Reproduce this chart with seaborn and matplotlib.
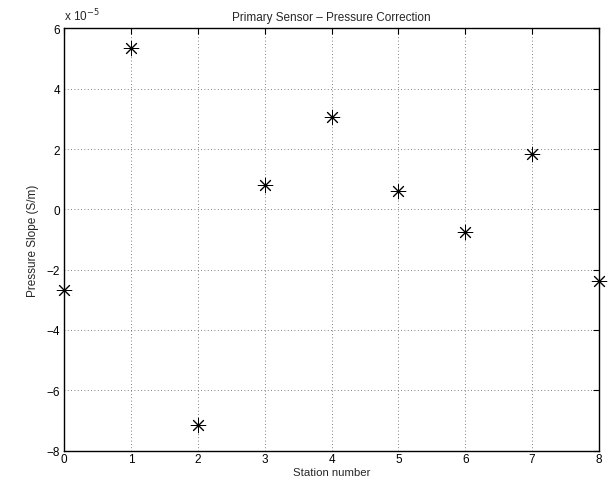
import numpy as np
import pandas as pd
import matplotlib
matplotlib.use('Agg')
import matplotlib.pyplot as plt
import seaborn as sns

# data (pressure slope in units of 1e-5 S/m)
stations = [0, 1, 2, 3, 4, 5, 6, 7, 8]
slope_e5 = [-2.68, 5.34, -7.14, 0.82, 3.05, 0.60, -0.75, 1.83, -2.36]
x_ticks = [0, 1, 2, 3, 4, 5, 6, 7, 8]
y_ticks = [-8, -6, -4, -2, 0, 2, 4, 6]

df = pd.DataFrame({'Station': stations, 'Slope': slope_e5})

sns.set_style('white')
plt.rcParams['font.family'] = ['Liberation Sans', 'DejaVu Sans']
plt.rcParams['font.size'] = 8.5
plt.rcParams['axes.unicode_minus'] = True

fig = plt.figure(figsize=(6.1, 4.81), dpi=100)
ax = fig.add_axes([0.105, 0.061, 0.877, 0.878])

sns.scatterplot(data=df, x='Station', y='Slope', marker=(8, 2, 0), s=110,
                color='black', linewidth=0.7, clip_on=False, zorder=5, ax=ax)

ax.set_xlim(0, 8)
ax.set_ylim(-8, 6)
ax.set_xticks(x_ticks)
ax.set_yticks(y_ticks)
ax.grid(True, linestyle=(0, (1, 3)), color='#555555', linewidth=0.6)
for s in ax.spines.values():
    s.set_color('black')
    s.set_linewidth(1.0)
ax.tick_params(direction='in', length=4, width=0.8, top=True, right=True,
               labelsize=8.5, colors='black', pad=3)
ax.tick_params(axis='x', pad=2)

ax.set_xlabel('Station number', fontsize=8.2)
ax.xaxis.set_label_coords(0.5, -0.039)
ax.set_ylabel('Pressure Slope (S/m)', fontsize=8.5, labelpad=5)
ax.set_title('Primary Sensor \u2013 Pressure Correction', fontsize=8.5, pad=6)
ax.text(0.0, 1.012, r'x 10$^{-5}$', transform=ax.transAxes, fontsize=8.5,
        ha='left', va='bottom')

fig.savefig('out.png', dpi=100)
